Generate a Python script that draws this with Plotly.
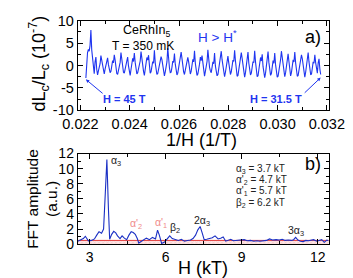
import numpy as np
import plotly.graph_objects as go

# ---------------- data: panel a (magnetostriction vs 1/H) ----------------
inv_h_start = 0.02222   # 1/(45 T)
inv_h_end = 0.03175     # 1/(31.5 T)
dl_values = [
    -2.8, 1.5, 2.9, 3.6, 3.2, 4.5, 7.9, 3.5, 1.0, 0.5, -1.8, 0.8, 1.9, -0.9,
    -2.1, -1.2, -0.5, 0.4, 2.2, 1.0, -0.3, -1.4,
    -1.9, -0.8, 0.3, 0.9, 1.7, 0.2, -0.9, -1.6,
    -1.3, -0.2, 1.1, 0.6, 2.4, 1.2, -0.6, -1.8,
    -2.0, -1.1, -0.3, 0.7, 2.9, 1.4, 0.1, -1.5,
    -1.7, -0.6, 0.5, 1.2, 1.9, -0.1, -1.2, -2.2,
    -0.9, 0.2, 1.6, 0.9, 2.8, 0.7, -0.8, -1.9,
    -1.6, -0.7, 0.0, 1.0, 3.1, 1.1, -0.4, -1.3,
    -2.2, -1.0, 0.4, 1.8, 1.2, 2.3, 0.2, -1.7,
    -1.4, -0.3, 0.9, 0.5, 3.4, 0.6, -1.0, -2.0,
    -1.8, -0.9, 0.2, 1.1, 2.0, 1.3, 0.0, -1.1,
    -2.3, -1.4, -0.2, 0.8, 3.9, 0.9, -0.5, -1.6,
    -1.5, -0.4, 1.0, 0.7, 2.7, 0.3, -1.1, -2.1,
    -1.7, -0.5, 0.6, 1.5, 3.0, 1.6, -0.2, -1.4,
    -2.0, -1.2, 0.1, 0.9, 1.8, 0.8, -0.7, -1.9,
    -1.3, -0.1, 1.4, 0.8, 3.3, 0.5, -1.0, -2.2,
    -1.9, -1.0, 0.3, 1.9, 1.1, 2.2, 0.1, -1.6,
    -2.4, -1.3, -0.1, 0.9, 3.5, 1.0, -0.4, -1.2,
    -1.6, -0.4, 0.8, 0.4, 2.8, -0.1, -1.3, -2.3,
    -2.0, -0.9, 0.4, 1.4, 3.2, 1.3, -0.3, -1.5,
    -2.5, -1.5, 0.0, 0.7, 2.1, 0.6, -0.8, -2.0,
    -1.4, -0.2, 1.2, 0.9, 3.4, 1.0, -0.9, -2.4,
    -2.2, -1.1, 0.3, 1.5, 2.9, 1.6, -0.1, -1.3,
    -2.6, -1.6, -0.3, 0.6, 3.0, 0.5, -0.9, -2.1,
    -1.7, -0.5, 0.9, 0.6, 3.3, 0.8, -1.0, -2.5,
    -2.3, -1.2, 0.2, 1.8, 1.0, 2.5, -0.2, -1.6,
    -2.7, -1.7, 0.0, 0.8, 3.1, 0.7, -0.8, -2.2,
    -1.8, -0.6, 1.1, 0.5, 2.8, 0.2, -1.2, -2.6,
    -2.4, -1.3, 0.5, 1.3, 3.2, 1.4, -0.1, -1.5,
    -2.5, -1.6, -0.1, 0.7, 2.6, 0.9, -0.7, -2.3,
    -1.6, -0.3, 1.3, 0.8, 3.0, 0.6, -1.0, -2.4,
    -2.2, -1.1, 0.3, 1.3, 2.4, 1.5, -0.3, -1.8,
    -2.6, -1.5, 0.0, 0.9, 2.9, 0.8, -0.6, -2.0,
    -1.9, -0.7, 0.8, 0.5, 2.4, 0.6, -0.9, -1.7,
    0.6, 1.5, -0.8, -2.0,
]
inv_h = np.linspace(inv_h_start, inv_h_end, len(dl_values))

top_xticks = [0.022, 0.024, 0.026, 0.028, 0.030, 0.032]
top_xticklabels = ["0.022", "0.024", "0.026", "0.028", "0.030", "0.032"]
top_yticks = [-10, -5, 0, 5, 10]
top_yticklabels = ["-10", "-5", "0", "5", "10"]

# ---------------- data: panel b (FFT spectrum) ----------------
fft_freq = [2.53, 2.65, 2.75, 2.83, 2.95, 3.07, 3.19, 3.28, 3.37, 3.47,
            3.55, 3.61, 3.68, 3.74, 3.79, 3.87, 3.95, 4.03, 4.10, 4.20,
            4.28, 4.37, 4.46, 4.55, 4.64, 4.72, 4.80, 4.88, 4.94, 5.03,
            5.12, 5.24, 5.36, 5.48, 5.60, 5.68, 5.75, 5.84, 5.96, 6.05,
            6.16, 6.26, 6.38, 6.50, 6.62, 6.74, 6.86, 6.98, 7.08, 7.18,
            7.27, 7.36, 7.45, 7.52, 7.62, 7.72, 7.84, 7.95, 8.07, 8.17,
            8.27, 8.37, 8.47, 8.57, 8.67, 8.77, 8.90, 9.00, 9.10, 9.22,
            9.35, 9.48, 9.60, 9.72, 9.85, 9.98, 10.10, 10.22, 10.36, 10.48,
            10.60, 10.72, 10.84, 10.96, 11.05, 11.13, 11.22, 11.32, 11.43, 11.53,
            11.63, 11.73, 11.84, 11.96, 12.06, 12.16, 12.26, 12.36, 12.43]
fft_amp = [0.40, 0.60, 0.75, 1.05, 0.45, 0.50, 0.70, 1.20, 1.65, 1.45,
           2.00, 6.20, 11.2, 4.80, 0.65, 1.30, 1.70, 1.50, 1.10, 0.75,
           1.10, 0.80, 0.60, 1.20, 1.65, 1.55, 1.30, 0.75, 0.15, 0.35,
           0.55, 0.80, 0.60, 0.90, 0.70, 1.85, 1.20, 0.10, 0.30, 0.70,
           1.10, 0.75, 0.60, 0.50, 0.65, 0.40, 0.50, 0.55, 0.75, 1.20,
           1.90, 2.35, 1.40, 0.60, 0.65, 0.75, 0.85, 1.10, 0.70, 0.80,
           0.95, 0.40, 0.55, 0.65, 0.45, 0.50, 0.50, 0.55, 0.60, 0.45,
           0.50, 0.40, 0.45, 0.40, 0.45, 0.50, 0.70, 0.55, 0.60, 0.55,
           0.65, 0.50, 0.55, 0.50, 0.60, 0.90, 0.55, 0.40, 0.35, 0.50,
           0.45, 0.55, 0.60, 0.40, 0.50, 0.60, 0.25, 0.55, 0.45]
noise_x = [2.4, 12.6]
noise_level = 0.5

# peak labels: (text, freq, amp, colour, anchor)
peak_labels = [
    ("α<sub>3</sub>", 3.78, 11.0, "#222222", "left"),
    ("α'<sub>2</sub>", 4.82, 2.7, "#f08a8a", "center"),
    ("α'<sub>1</sub>", 5.80, 2.8, "#f08a8a", "center"),
    ("β<sub>2</sub>", 6.38, 2.1, "#222222", "center"),
    ("2α<sub>3</sub>", 7.45, 3.1, "#222222", "center"),
    ("3α<sub>3</sub>", 11.15, 1.8, "#222222", "center"),
]
freq_table = [
    ("α<sub>3</sub> = 3.7 kT", 10.0),
    ("α'<sub>2</sub> = 4.7 kT", 8.55),
    ("α'<sub>1</sub> = 5.7 kT", 7.05),
    ("β<sub>2</sub> = 6.2 kT", 5.5),
]

FONT = "Liberation Sans, Arial, sans-serif"
TOP_BLUE = "#1f35f0"
BOT_BLUE = "#1a2fc4"

fig = go.Figure()

fig.add_trace(go.Scatter(x=inv_h, y=dl_values, mode="lines",
                         line=dict(color=TOP_BLUE, width=1.1),
                         xaxis="x", yaxis="y", showlegend=False))

# noise band
fig.add_trace(go.Scatter(x=[noise_x[0], noise_x[1], noise_x[1], noise_x[0], noise_x[0]],
                         y=[0, 0, noise_level, noise_level, 0],
                         fill="toself", mode="lines",
                         line=dict(width=0, color="rgba(0,0,0,0)"),
                         fillcolor="#fbd6d6",
                         fillpattern=dict(shape="x", fgcolor="#f2a0a0", bgcolor="#fde6e6", size=3, solidity=0.3),
                         xaxis="x2", yaxis="y2", showlegend=False))
fig.add_trace(go.Scatter(x=noise_x, y=[noise_level, noise_level], mode="lines",
                         line=dict(color="#e23a3a", width=1),
                         xaxis="x2", yaxis="y2", showlegend=False))
fig.add_trace(go.Scatter(x=fft_freq, y=fft_amp, mode="lines",
                         line=dict(color=BOT_BLUE, width=1.1),
                         xaxis="x2", yaxis="y2", showlegend=False))

axis_common = dict(showline=True, linecolor="black", linewidth=1, mirror="ticks",
                   ticks="inside", ticklen=5, tickwidth=1, tickcolor="black",
                   showgrid=False, zeroline=False)
top_font = dict(family=FONT, size=14.5, color="black")
bot_font = dict(family=FONT, size=14, color="black")

fig.update_layout(
    width=353, height=278,
    margin=dict(l=0, r=0, t=0, b=0),
    paper_bgcolor="white", plot_bgcolor="white",
    xaxis=dict(domain=[0.170, 0.949], anchor="y", range=[0.02189, 0.03207],
               tickvals=top_xticks, ticktext=top_xticklabels, tickfont=top_font,
               minor=dict(dtick=0.001, tick0=0.022, ticks="inside", ticklen=3, tickcolor="black"),
               **axis_common),
    yaxis=dict(domain=[0.640, 0.982], anchor="x", range=[-10, 10],
               tickvals=top_yticks, ticktext=top_yticklabels, tickfont=top_font,
               minor=dict(dtick=2.5, tick0=0, ticks="inside", ticklen=3, tickcolor="black"),
               **axis_common),
    xaxis2=dict(domain=[0.170, 0.949], anchor="y2", range=[2.53, 12.43],
                tickvals=[3, 6, 9, 12], tickfont=bot_font,
                minor=dict(dtick=1.5, tick0=3, ticks="inside", ticklen=3, tickcolor="black"),
                **axis_common),
    yaxis2=dict(domain=[0.129, 0.475], anchor="x2", range=[0, 12],
                tickvals=[0, 2, 4, 6, 8, 10, 12], tickfont=bot_font,
                minor=dict(dtick=1, tick0=0, ticks="inside", ticklen=3, tickcolor="black"),
                **axis_common),
)

def title_ann(text, px, py, size, angle=0):
    return dict(text=text, xref="paper", yref="paper", x=px / 353, y=1 - py / 278,
                xanchor="center", yanchor="middle", textangle=angle, showarrow=False,
                font=dict(family=FONT, size=size, color="black"))

ann = []
# axis titles
ann.append(title_ann("dL<sub>c</sub>/L<sub>c</sub> (10<sup>-7</sup>)", 17, 51, 18, -90))
ann.append(title_ann("1/H (1/T)", 196, 132, 18))
ann.append(title_ann("FFT amplitude", 11, 194, 15.5, -90))
ann.append(title_ann("(a.u.)", 32, 194, 15.5, -90))
ann.append(title_ann("H (kT)", 197, 267, 18))

def txt_ann(text, x, y, size, color, xref="x", yref="y", anchor="center"):
    return dict(text=text, xref=xref, yref=yref, x=x, y=y, xanchor=anchor, yanchor="middle",
                showarrow=False, font=dict(family=FONT, size=size, color=color))

# panel a texts
ann.append(txt_ann("CeRhIn<sub>5</sub>", 0.0247, 7.8, 12.5, "black"))
ann.append(txt_ann("T = 350 mK", 0.02452, 4.3, 12, "black"))
ann.append(txt_ann("H > H<sup>*</sup>", 0.02756, 6.6, 13.5, TOP_BLUE))
ann.append(txt_ann("a)", 0.03142, 6.4, 18, "black"))
ann.append(txt_ann("<b>H = 45 T</b>", 0.02378, -7.4, 11, TOP_BLUE))
ann.append(txt_ann("<b>H = 31.5 T</b>", 0.02993, -7.4, 11, TOP_BLUE))
ann.append(dict(text="", xref="x", yref="y", axref="x", ayref="y",
                x=inv_h_start, y=-3.1, ax=0.02296, ay=-6.5,
                showarrow=True, arrowhead=2, arrowsize=0.7, arrowwidth=1, arrowcolor=TOP_BLUE))
ann.append(dict(text="", xref="x", yref="y", axref="x", ayref="y",
                x=inv_h_end, y=-2.7, ax=0.03104, ay=-6.4,
                showarrow=True, arrowhead=2, arrowsize=0.7, arrowwidth=1, arrowcolor=TOP_BLUE))

# panel b texts
for txt, fx, fy, col, anc in peak_labels:
    ann.append(txt_ann(txt, fx, fy, 10.5, col, "x2", "y2", anc))
for txt, fy in freq_table:
    ann.append(txt_ann(txt, 8.7, fy, 10, "#222222", "x2", "y2", "left"))
ann.append(txt_ann("b)", 11.82, 10.6, 18, "black", "x2", "y2"))

fig.update_layout(annotations=ann)

fig.write_html("out.html")
